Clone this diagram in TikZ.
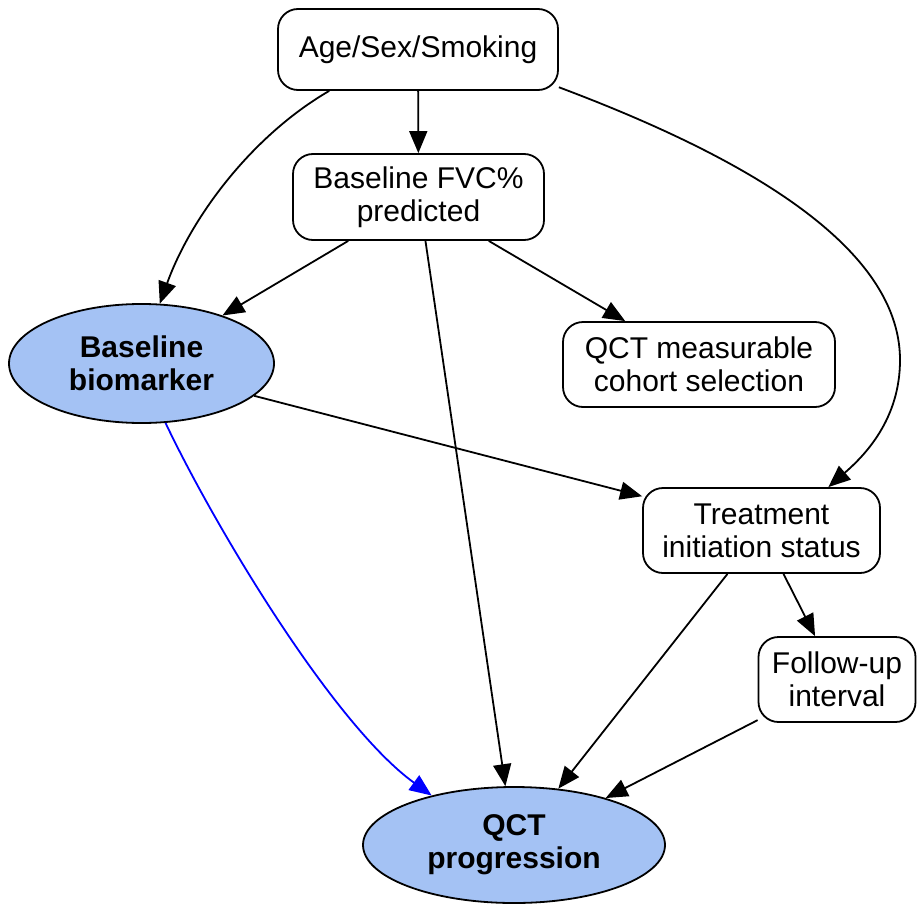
\documentclass[tikz,border=0pt]{standalone}
\usepackage{fontspec}
\setmainfont{Liberation Sans}
\usetikzlibrary{arrows.meta,shapes.geometric}
\definecolor{nodeblue}{RGB}{164,194,244}
\begin{document}
\begin{tikzpicture}[x=1pt,y=-1pt,
  rbox/.style={rectangle, draw=black, line width=1.8pt, rounded corners=20pt, inner sep=0pt, align=center, font=\fontsize{30}{33}\selectfont},
  ebox/.style={ellipse, draw=black, line width=1.8pt, fill=nodeblue, inner sep=0pt, align=center, font=\fontsize{30}{33}\selectfont\bfseries},
  conn/.style={line width=1.8pt, -{Triangle[length=22pt,width=18pt]}}
]
\useasboundingbox (0,0) rectangle (917,904);
\node[rbox, minimum width=280pt, minimum height=81pt] (age) at (418,49.5) {Age/Sex/Smoking};
\node[rbox, minimum width=251pt, minimum height=86pt] (fvc) at (418.5,197) {Baseline FVC\%\\predicted};
\node[ebox, minimum width=265pt, minimum height=119pt] (bio) at (141.5,363.5) {Baseline\\biomarker};
\node[rbox, minimum width=272pt, minimum height=85pt] (sel) at (699,364.5) {QCT measurable\\cohort selection};
\node[rbox, minimum width=237pt, minimum height=85pt] (treat) at (761.5,530.5) {Treatment\\initiation status};
\node[rbox, minimum width=157pt, minimum height=85pt] (fu) at (837,679.5) {Follow-up\\interval};
\node[ebox, minimum width=302pt, minimum height=116pt] (qct) at (514,845) {QCT\\progression};

\draw[conn] (age) -- (fvc);
\draw[conn] (age.205) .. controls (251.5,136) and (190.6,218) .. (bio.73);
\draw[conn] (age.345) .. controls (726,150) and (900,240) .. (900,360) .. controls (900,420) and (864,456) .. (treat.33);
\draw[conn] (fvc.212) -- (bio);
\draw[conn] (fvc.328) -- (sel);
\draw[conn] (fvc.279) -- (qct);
\draw[conn] (bio.344) -- (treat.164);
\draw[conn, blue] (bio.292) .. controls (215,527) and (333,724) .. (qct.149);
\draw[conn] (treat) -- (fu);
\draw[conn] (treat) -- (qct);
\draw[conn] (fu) -- (qct);
\end{tikzpicture}
\end{document}
